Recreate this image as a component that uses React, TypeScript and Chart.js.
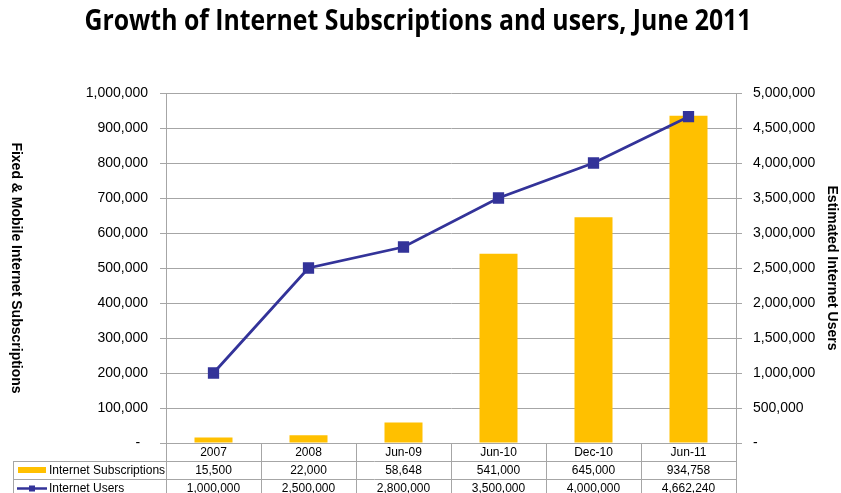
import React, { useEffect, useRef } from "react";
import { Chart, registerables } from "chart.js";

Chart.register(...registerables);

const categories = ["2007", "2008", "Jun-09", "Jun-10", "Dec-10", "Jun-11"];
const subscriptions = [15500, 22000, 58648, 541000, 645000, 934758];
const users = [1000000, 2500000, 2800000, 3500000, 4000000, 4662240];
const seriesNames = ["Internet Subscriptions", "Internet Users"];
const titleText = "Growth of Internet Subscriptions and users, June 2011";
const leftTitle = "Fixed & Mobile Internet Subscriptions";
const rightTitle = "Estimated Internet Users";

const BAR = "#FFC000";
const LINE = "#333399";
const GRID = "#A6A6A6";
const FONT = "'Liberation Sans', Arial, sans-serif";

const fmt = (v: number) => v.toLocaleString("en-US");

const decorPlugin = {
  id: "decor",
  afterDraw(chart: any) {
    const ctx = chart.ctx as CanvasRenderingContext2D;
    const area = chart.chartArea;
    const x = chart.scales.x;
    ctx.save();
    // Title (condensed to mimic a narrow face)
    ctx.fillStyle = "#000";
    ctx.font = `bold 29px 'Open Sans', 'Liberation Sans', sans-serif`;
    ctx.textAlign = "center";
    ctx.textBaseline = "middle";
    const tw = ctx.measureText(titleText).width;
    const targetW = 667;
    ctx.save();
    ctx.translate(418, 22);
    ctx.scale(targetW / tw, 1);
    ctx.fillText(titleText, 0, 0);
    ctx.restore();

    // Axis titles
    ctx.font = `bold 14px ${FONT}`;
    ctx.save();
    ctx.translate(16, (area.top + area.bottom) / 2);
    ctx.rotate(Math.PI / 2);
    ctx.fillText(leftTitle, 0, 0);
    ctx.restore();
    ctx.save();
    ctx.translate(832, (area.top + area.bottom) / 2);
    ctx.rotate(Math.PI / 2);
    ctx.fillText(rightTitle, 0, 0);
    ctx.restore();

    // Data table
    const n = categories.length;
    const colW = (area.right - area.left) / n;
    const rows = [area.bottom, area.bottom + 18, area.bottom + 36, area.bottom + 54];
    const tableLeft = 13;
    ctx.strokeStyle = GRID;
    ctx.lineWidth = 1;
    ctx.beginPath();
    ctx.moveTo(area.left, rows[0] + 0.5);
    ctx.lineTo(area.right, rows[0] + 0.5);
    ctx.moveTo(tableLeft, rows[1] + 0.5);
    ctx.lineTo(area.right, rows[1] + 0.5);
    ctx.moveTo(tableLeft, rows[2] + 0.5);
    ctx.lineTo(area.right, rows[2] + 0.5);
    for (let i = 0; i <= n; i++) {
      const cx = Math.round(x.getPixelForValue(Math.min(i, n - 1)) + (i === n ? colW / 2 : -colW / 2)) + 0.5;
      ctx.moveTo(cx, rows[0]);
      ctx.lineTo(cx, rows[3]);
    }
    ctx.moveTo(tableLeft + 0.5, rows[1]);
    ctx.lineTo(tableLeft + 0.5, rows[3]);
    ctx.stroke();

    ctx.fillStyle = "#000";
    ctx.font = `12px ${FONT}`;
    ctx.textAlign = "center";
    ctx.textBaseline = "middle";
    for (let i = 0; i < n; i++) {
      const cx = x.getPixelForValue(i);
      ctx.fillText(categories[i], cx, (rows[0] + rows[1]) / 2 + 1);
      ctx.fillText(fmt(subscriptions[i]), cx, (rows[1] + rows[2]) / 2 + 1);
      ctx.fillText(fmt(users[i]), cx, (rows[2] + rows[3]) / 2 + 1);
    }
    ctx.textAlign = "left";
    const y1 = (rows[1] + rows[2]) / 2;
    const y2 = (rows[2] + rows[3]) / 2;
    ctx.fillStyle = BAR;
    ctx.fillRect(18, y1 - 3, 28, 6);
    ctx.fillStyle = "#000";
    ctx.fillText(seriesNames[0], 49, y1 + 1);
    ctx.strokeStyle = LINE;
    ctx.lineWidth = 2.5;
    ctx.beginPath();
    ctx.moveTo(17, y2 + 0.5);
    ctx.lineTo(47, y2 + 0.5);
    ctx.stroke();
    ctx.fillStyle = LINE;
    ctx.fillRect(29, y2 - 2.5, 6, 6);
    ctx.fillStyle = "#000";
    ctx.fillText(seriesNames[1], 49, y2 + 1);
    ctx.restore();
  },
};

export default function App() {
  const ref = useRef<HTMLCanvasElement>(null);
  useEffect(() => {
    document.body.style.margin = "0";
    const chart = new Chart(ref.current!, {
      type: "bar",
      data: {
        labels: categories,
        datasets: [
          {
            type: "line",
            label: seriesNames[1],
            data: users,
            yAxisID: "y2",
            borderColor: LINE,
            backgroundColor: LINE,
            borderWidth: 2.8,
            pointStyle: "rect",
            pointRadius: 6,
            pointBackgroundColor: LINE,
            pointBorderColor: LINE,
            tension: 0,
            order: 0,
          },
          {
            type: "bar",
            label: seriesNames[0],
            data: subscriptions,
            yAxisID: "y",
            backgroundColor: BAR,
            barPercentage: 0.4,
            categoryPercentage: 1,
            order: 1,
          },
        ] as any,
      },
      options: {
        responsive: false,
        animation: false,
        layout: { padding: { top: 93, bottom: 50, left: 0, right: 0 } },
        plugins: { legend: { display: false }, tooltip: { enabled: false }, title: { display: false } },
        scales: {
          x: { display: false, offset: true },
          y: {
            position: "left",
            min: 0,
            max: 1000000,
            ticks: {
              stepSize: 100000,
              padding: 12,
              color: "#000",
              font: { family: FONT, size: 14 },
              callback: (v: any) => (v === 0 ? "-  " : fmt(v)),
            },
            grid: { color: GRID, tickLength: 6, drawTicks: true },
            border: { color: GRID },
            afterFit: (s: any) => { s.width = 166; },
          },
          y2: {
            position: "right",
            min: 0,
            max: 5000000,
            ticks: {
              stepSize: 500000,
              padding: 11,
              color: "#000",
              font: { family: FONT, size: 14 },
              callback: (v: any) => (v === 0 ? "-" : fmt(v)),
            },
            grid: { drawOnChartArea: false, color: GRID, tickLength: 6 },
            border: { color: GRID },
            afterFit: (s: any) => { s.width = 105; },
          },
        },
      },
      plugins: [decorPlugin],
    } as any);
    return () => chart.destroy();
  }, []);
  return <canvas ref={ref} width={841} height={493} style={{ display: "block" }} />;
}
